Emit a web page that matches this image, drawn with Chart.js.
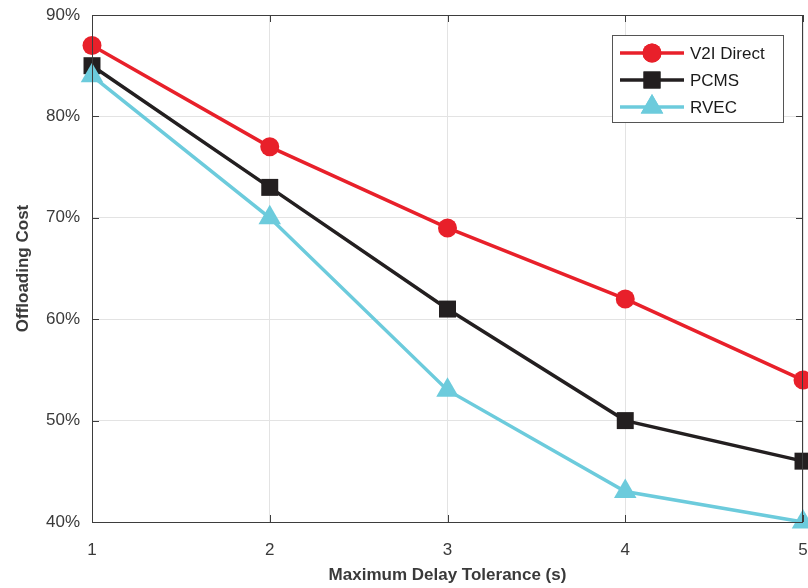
<!DOCTYPE html>
<html>
<head>
<meta charset="utf-8">
<script src="https://cdn.jsdelivr.net/npm/chart.js@4/dist/chart.umd.min.js"></script>
<style>
  html, body { margin: 0; padding: 0; background: #fff; }
  #wrap { width: 808px; height: 588px; }
</style>
</head>
<body>
<div id="wrap"><canvas id="grafico" width="808" height="588"></canvas></div>
<script>
const atrasos = [1, 2, 3, 4, 5]
const v2iDirect = [87, 77, 69, 62, 54]
const pcms = [85, 73, 61, 50, 46]
const rvec = [84, 70, 53, 43, 40]
const yTicks = [40, 50, 60, 70, 80, 90]

const series = [
  { nome: 'V2I Direct', valores: v2iDirect, cor: '#e8202a', marca: 'circle', raio: 9.5 },
  { nome: 'PCMS', valores: pcms, cor: '#231f20', marca: 'rect', raio: 12 },
  { nome: 'RVEC', valores: rvec, cor: '#6ccbdc', marca: 'triangle', raio: 13 }
]

const fonte = 'Liberation Sans, Arial, Helvetica, sans-serif'

// caixa em volta do grafico, tracinhos internos e a legenda
const molduraELegenda = {
  id: 'molduraELegenda',
  afterDraw(chart) {
    const ctx = chart.ctx
    const a = chart.chartArea
    const sx = chart.scales.x
    const sy = chart.scales.y
    ctx.save()
    ctx.strokeStyle = '#3d3d3d'
    ctx.lineWidth = 1
    ctx.strokeRect(a.left + 0.5, a.top + 0.5, a.right - a.left - 1, a.bottom - a.top)
    ctx.beginPath()
    atrasos.forEach(v => {
      const x = Math.round(sx.getPixelForValue(v)) + 0.5
      ctx.moveTo(x, a.bottom); ctx.lineTo(x, a.bottom - 7)
      ctx.moveTo(x, a.top); ctx.lineTo(x, a.top + 7)
    })
    yTicks.forEach(v => {
      const y = Math.round(sy.getPixelForValue(v)) + 0.5
      ctx.moveTo(a.left, y); ctx.lineTo(a.left + 7, y)
      ctx.moveTo(a.right, y); ctx.lineTo(a.right - 7, y)
    })
    ctx.stroke()

    // legenda
    const bx = 612, by = 35, bw = 171, bh = 87
    ctx.fillStyle = '#fff'
    ctx.fillRect(bx, by, bw, bh)
    ctx.strokeStyle = '#555'
    ctx.strokeRect(bx + 0.5, by + 0.5, bw, bh)
    series.forEach((s, i) => {
      const y = 53 + i * 27
      ctx.strokeStyle = s.cor
      ctx.lineWidth = 3.5
      ctx.beginPath()
      ctx.moveTo(620, y); ctx.lineTo(684, y)
      ctx.stroke()
      ctx.fillStyle = s.cor
      Chart.helpers.drawPoint(ctx, { pointStyle: s.marca, radius: s.raio, borderWidth: 0 }, 652, y)
      ctx.fill()
      ctx.fillStyle = '#1a1a1a'
      ctx.font = '17px ' + fonte
      ctx.textBaseline = 'middle'
      ctx.fillText(s.nome, 690, y + 1)
    })
    ctx.restore()
  }
}

new Chart(document.getElementById('grafico'), {
  type: 'line',
  data: {
    labels: atrasos,
    datasets: series.map((s, i) => ({
      label: s.nome,
      data: s.valores.map((v, j) => ({ x: atrasos[j], y: v })),
      borderColor: s.cor,
      backgroundColor: s.cor,
      borderWidth: 3.5,
      pointStyle: s.marca,
      pointRadius: s.raio,
      pointBorderWidth: 0,
      pointHoverRadius: s.raio,
      clip: false,
      order: 3 - i,
      tension: 0
    }))
  },
  plugins: [molduraELegenda],
  options: {
    responsive: false,
    animation: false,
    layout: { autoPadding: false, padding: { left: 0, right: 5, top: 15, bottom: 0 } },
    plugins: {
      legend: { display: false },
      tooltip: { enabled: false }
    },
    scales: {
      x: {
        type: 'linear',
        min: 1,
        max: 5,
        afterBuildTicks(scale) { scale.ticks = atrasos.map(v => ({ value: v })) },
        afterFit(scale) {
          scale.height = 66
          scale.paddingLeft = 0
          scale.paddingRight = 0
        },
        grid: { color: '#e3e3e3', drawTicks: false },
        border: { display: false },
        ticks: { padding: 18, color: '#3a3a3a', font: { family: fonte, size: 17 } },
        title: {
          display: true,
          text: 'Maximum Delay Tolerance (s)',
          color: '#3a3a3a',
          font: { family: fonte, size: 17, weight: 'bold' },
          padding: { top: 4, bottom: 2 }
        }
      },
      y: {
        min: 40,
        max: 90,
        afterBuildTicks(scale) { scale.ticks = yTicks.map(v => ({ value: v })) },
        afterFit(scale) {
          scale.width = 92
          scale.paddingTop = 0
          scale.paddingBottom = 0
        },
        grid: { color: '#e3e3e3', drawTicks: false },
        border: { display: false },
        ticks: {
          padding: 12,
          color: '#3a3a3a',
          font: { family: fonte, size: 17 },
          callback: v => v + '%'
        },
        title: {
          display: true,
          text: 'Offloading Cost',
          color: '#3a3a3a',
          font: { family: fonte, size: 17, weight: 'bold' },
          padding: { top: 13, bottom: 0 }
        }
      }
    }
  }
})
</script>
</body>
</html>
